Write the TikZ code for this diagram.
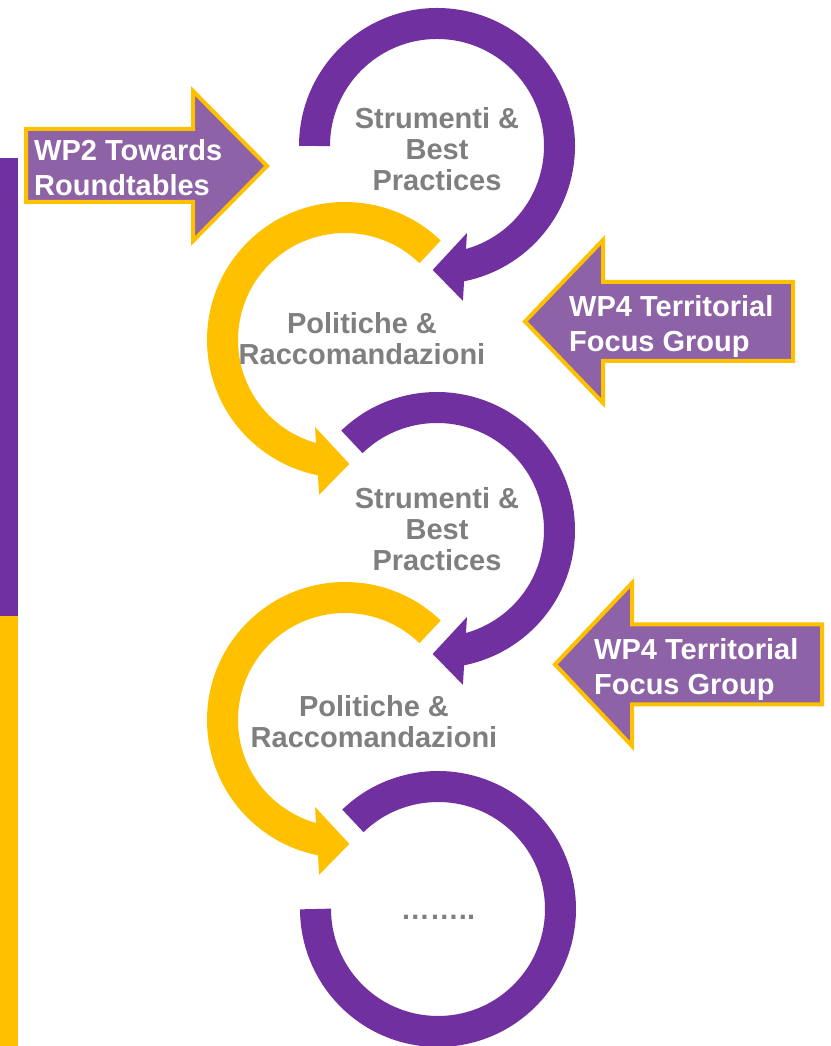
\documentclass[tikz,border=0pt]{standalone}
\usepackage{fontspec}
\setmainfont{Liberation Sans}
\definecolor{ringpurple}{RGB}{112,48,160}
\definecolor{ringyellow}{RGB}{255,192,0}
\definecolor{wpviolet}{RGB}{142,98,166}
\definecolor{cyclegray}{RGB}{127,127,127}

\begin{document}
\begin{tikzpicture}[x=1pt,y=1pt,
  ring/.style={line width=31pt},
  wparrow/.style={fill=wpviolet,draw=ringyellow,line width=4pt,line join=miter},
  wptext/.style={text=white,align=left,inner sep=0pt,anchor=base west,font=\fontsize{29}{35}\selectfont\bfseries},
  cycletext/.style={text=cyclegray,align=center,inner sep=0pt,anchor=base,font=\fontsize{29}{31}\selectfont\bfseries}]
  \useasboundingbox (0,0) rectangle (830,1046);

  % side bar
  \fill[ringpurple] (0,430) rectangle (17.5,888);
  \fill[ringyellow] (0,0) rectangle (17.5,430);

  % ring centres
  \coordinate (strum1) at (437,900);
  \coordinate (polit1) at (345,706);
  \coordinate (strum2) at (437,516);
  \coordinate (polit2) at (345,326);
  \coordinate (strum3) at (438,137);

  % first purple ring
  \draw[ring,ringpurple] ([shift={(180:122.5)}]strum1) arc[start angle=180,end angle=-79,radius=122.5];
  \fill[ringpurple] ([shift={(-71:92)}]strum1) -- ([shift={(-92:124)}]strum1) -- ([shift={(-80.5:157)}]strum1) -- cycle;

  % first yellow ring
  \draw[ring,ringyellow] ([shift={(46:122.5)}]polit1) arc[start angle=46,end angle=259,radius=122.5];
  \fill[ringyellow] ([shift={(251:92)}]polit1) -- ([shift={(272:124)}]polit1) -- ([shift={(260.5:157)}]polit1) -- cycle;

  % second purple ring
  \draw[ring,ringpurple] ([shift={(134:122.5)}]strum2) arc[start angle=134,end angle=-79,radius=122.5];
  \fill[ringpurple] ([shift={(-71:92)}]strum2) -- ([shift={(-92:124)}]strum2) -- ([shift={(-80.5:157)}]strum2) -- cycle;

  % second yellow ring
  \draw[ring,ringyellow] ([shift={(46:122.5)}]polit2) arc[start angle=46,end angle=259,radius=122.5];
  \fill[ringyellow] ([shift={(251:92)}]polit2) -- ([shift={(272:124)}]polit2) -- ([shift={(260.5:157)}]polit2) -- cycle;

  % last purple ring, no head
  \draw[ring,ringpurple] ([shift={(134:122.5)}]strum3) arc[start angle=134,end angle=-180,radius=122.5];

  % cycle labels (base = last line)
  \node[cycletext] (strumtext1) at (437,855) {Strumenti \&\\Best\\Practices};
  \node[cycletext] (polittext1) at (362,681) {Politiche \&\\Raccomandazioni};
  \node[cycletext] (strumtext2) at (437,475) {Strumenti \&\\Best\\Practices};
  \node[cycletext] (polittext2) at (374,298) {Politiche \&\\Raccomandazioni};
  \node[cycletext] (dotstext) at (438,126) {……..};

  % WP block arrows
  \draw[wparrow] (26,917) -- (193,917) -- (193,955) -- (267,880) -- (193,805) -- (193,844) -- (26,844) -- cycle;
  \draw[wparrow] (525,724.5) -- (603,806) -- (603,764) -- (793,764) -- (793,685) -- (603,685) -- (603,643) -- cycle;
  \draw[wparrow] (555,381.5) -- (632,463) -- (632,421.5) -- (822,421.5) -- (822,341.5) -- (632,341.5) -- (632,300) -- cycle;

  \node[wptext] (wp2) at (34,850) {WP2 Towards\\Roundtables};
  \node[wptext] (wp4a) at (569,694) {WP4 Territorial\\Focus Group};
  \node[wptext] (wp4b) at (594,351) {WP4 Territorial\\Focus Group};
\end{tikzpicture}
\end{document}
